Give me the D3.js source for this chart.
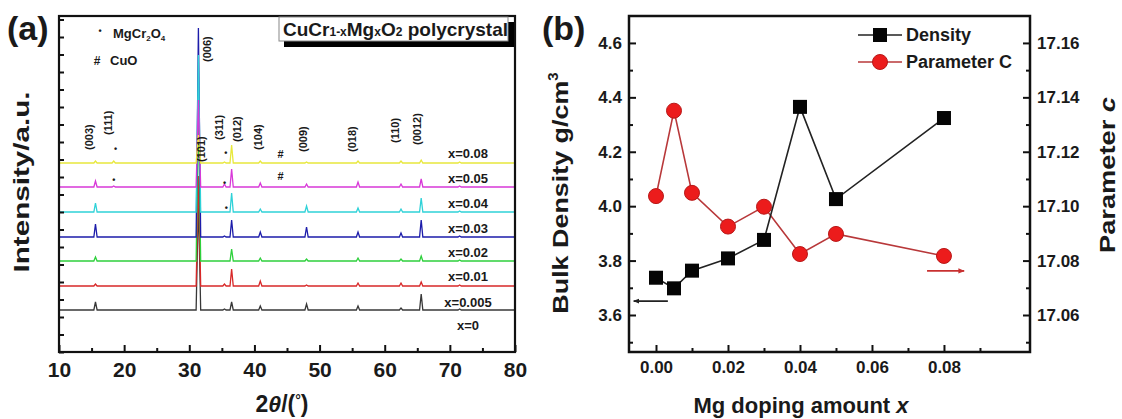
<!DOCTYPE html>
<meta charset="utf-8">
<script src="https://d3js.org/d3.v7.min.js"></script>
<style>
  body { margin: 0; background: #fff; }
  text { font-family: "Liberation Sans", Arial, sans-serif; font-weight: bold; fill: #1a1a1a; }
</style>
<div id="chart"></div>
<script>
// ---------- panel (a): XRD patterns ----------
var peakTheta = [15.6, 18.4, 31.4, 35.4, 36.5, 40.9, 44.0, 48.0, 55.9, 62.5, 65.6, 71.5];
var traceColors = ["#383838", "#d82828", "#2ed03c", "#1c1caa", "#2fd2d8", "#d838d8", "#e8e83c"];
var traceBase = [42, 66, 91, 115, 140, 165, 189];
// peak heights for each trace, same order as peakTheta
var traceHeights = [
  [8, 0, 110, 1, 8, 4, 0, 6, 4, 2, 16, 1],
  [2, 0, 110, 2, 17, 5, 0, 1, 3, 3, 4, 1],
  [4, 0, 150, 0, 12, 3, 0, 2, 3, 2, 5, 1],
  [13, 0, 209, 1, 17, 5, 0, 10, 5, 4, 17, 1],
  [9, 0, 157, 0, 19, 3, 0, 6, 4, 3, 14, 1],
  [6, 1, 87, 3, 18, 4, 0, 3, 5, 3, 8, 1],
  [2, 2, 28, 1, 18, 2, 0, 1, 2, 2, 3, 1]
];
var sampleLabels = ["x=0", "x=0.005", "x=0.01", "x=0.02", "x=0.03", "x=0.04", "x=0.05", "x=0.08"];
var sampleLabelLevel = [22, 45, 71, 95, 119, 144, 169, 194];

var hklText = ["(003)", "(111)", "(006)", "(101)", "(311)", "(012)", "(104)", "(009)", "(018)", "(110)", "(0012)"];
var hklTheta = [14.6, 17.5, 32.8, 31.8, 34.6, 37.4, 40.5, 47.5, 55.0, 61.6, 65.0];
var hklLevel = [202, 217, 290, 190, 212, 210, 202, 200, 200, 209, 207];

var markSymbol = ["•", "•", "•", "•", "#", "#", "•"];
var markTheta = [18.7, 35.6, 18.4, 35.4, 44.0, 44.0, 35.7];
var markLevel = [203, 199, 172, 169, 198, 176, 144];

// ---------- panel (b): density and lattice parameter ----------
var mgX = [0, 0.005, 0.01, 0.02, 0.03, 0.04, 0.05, 0.08];
var density = [3.737, 3.698, 3.763, 3.808, 3.876, 4.365, 4.026, 4.324];
var paramC = [17.1037, 17.1351, 17.1049, 17.0925, 17.0998, 17.0824, 17.0898, 17.0817];
var xTicksB = [0, 0.02, 0.04, 0.06, 0.08];
var densTicks = [3.6, 3.8, 4.0, 4.2, 4.4, 4.6];
var cTicks = [17.06, 17.08, 17.10, 17.12, 17.14, 17.16];

var W = 1122, H = 419;
var svg = d3.select("#chart").append("svg").attr("width", W).attr("height", H);

// ================= (a) =================
var xa = d3.scaleLinear().domain([10, 80]).range([59, 515]);
var ya = d3.scaleLinear().domain([0, 336]).range([352, 16]);
var ga = svg.append("g");

var line = d3.line().x(function (d) { return xa(d[0]); }).y(function (d) { return ya(d[1]); });
traceBase.forEach(function (b, i) {
  var pts = [[10, b]];
  peakTheta.forEach(function (t, k) {
    var w = k == 2 ? 0.35 : 0.25;
    pts.push([t - w, b], [t, b + traceHeights[i][k]], [t + w, b]);
  });
  pts.push([80, b]);
  ga.append("path").attr("d", line(pts)).attr("fill", "none")
    .attr("stroke", traceColors[i]).attr("stroke-width", 1.3);
});

// axes
var axA = ga.append("g").attr("transform", "translate(0,352)")
  .call(d3.axisBottom(xa).tickValues(d3.range(10, 81, 10)).tickSizeInner(-7).tickSizeOuter(0).tickPadding(10));
ga.append("g").attr("transform", "translate(0,352)")
  .call(d3.axisBottom(xa).tickValues(d3.range(15, 80, 10)).tickSizeInner(-4).tickSizeOuter(0).tickFormat(""));
ga.append("g").attr("transform", "translate(59,0)")
  .call(d3.axisLeft(ya).tickValues(d3.range(0, 336, 17.5)).tickSizeInner(-5).tickSizeOuter(0).tickFormat(""));
ga.selectAll(".domain").remove();
ga.selectAll(".tick line").attr("stroke", "#111").attr("stroke-width", 2);
axA.selectAll("text").style("font-size", "21px").attr("fill", "#1a1a1a");

ga.append("rect").attr("x", 59).attr("y", 16).attr("width", 456).attr("height", 336)
  .attr("fill", "none").attr("stroke", "#111").attr("stroke-width", 2.2);

// hkl labels
hklText.forEach(function (s, i) {
  ga.append("text")
    .attr("transform", "translate(" + xa(hklTheta[i]) + "," + ya(hklLevel[i]) + ") rotate(-90)")
    .attr("dy", "0.35em").style("font-size", "11px").text(s);
});
markSymbol.forEach(function (s, i) {
  ga.append("text").attr("x", xa(markTheta[i])).attr("y", ya(markLevel[i]))
    .attr("text-anchor", "middle").attr("dy", "0.35em")
    .style("font-size", s == "#" ? "11px" : "9px").attr("fill", "#444").text(s);
});
sampleLabels.forEach(function (s, i) {
  ga.append("text").attr("x", 468).attr("y", ya(sampleLabelLevel[i]))
    .attr("text-anchor", "middle").style("font-size", "13px").text(s);
});

// phase legend
ga.append("text").attr("x", 100).attr("y", 34).attr("text-anchor", "middle").style("font-size", "9px").attr("fill", "#444").text("•");
var lg1 = ga.append("text").attr("x", 113).attr("y", 38).style("font-size", "13px");
lg1.append("tspan").text("MgCr");
lg1.append("tspan").attr("dy", 3).style("font-size", "8px").text("2");
lg1.append("tspan").attr("dy", -3).text("O");
lg1.append("tspan").attr("dy", 3).style("font-size", "8px").text("4");
ga.append("text").attr("x", 97).attr("y", 65).attr("text-anchor", "middle").style("font-size", "12px").text("#");
ga.append("text").attr("x", 110).attr("y", 65).style("font-size", "13px").text("CuO");

// title box
ga.append("rect").attr("x", 284).attr("y", 22).attr("width", 230).attr("height", 25).attr("fill", "#000");
ga.append("rect").attr("x", 279).attr("y", 17).attr("width", 229).attr("height", 24)
  .attr("fill", "#fff").attr("stroke", "#888").attr("stroke-width", 1);
var tt = ga.append("text").attr("x", 283).attr("y", 36).style("font-size", "19px");
tt.append("tspan").text("CuCr");
tt.append("tspan").style("font-size", "12px").text("1-x");
tt.append("tspan").text("Mg");
tt.append("tspan").style("font-size", "12px").text("x");
tt.append("tspan").text("O");
tt.append("tspan").style("font-size", "12px").text("2");
tt.append("tspan").text(" polycrystal");

svg.append("text").attr("x", 7).attr("y", 40).style("font-size", "34px").text("(a)");
svg.append("text").attr("transform", "translate(29,182) rotate(-90)")
  .attr("text-anchor", "middle").attr("textLength", 181).attr("lengthAdjust", "spacingAndGlyphs")
  .style("font-size", "22px").text("Intensity/a.u.");
var xl = svg.append("text").attr("x", 282).attr("y", 412).attr("text-anchor", "middle").style("font-size", "23px");
xl.append("tspan").text("2");
xl.append("tspan").style("font-style", "italic").text("θ");
xl.append("tspan").text("/(");
xl.append("tspan").attr("dy", -7).style("font-size", "14px").text("°");
xl.append("tspan").attr("dy", 7).text(")");

// ================= (b) =================
var xb = d3.scaleLinear().domain([-0.0075, 0.1039]).range([629, 1030]);
var yb = d3.scaleLinear().domain([3.464, 4.699]).range([352, 16]);
var yc = d3.scaleLinear().domain([17.0464, 17.1699]).range([352, 16]);
var gb = svg.append("g");

var bx = gb.append("g").attr("transform", "translate(0,352)")
  .call(d3.axisBottom(xb).tickValues(xTicksB).tickFormat(d3.format(".2f")).tickSizeInner(-7).tickSizeOuter(0).tickPadding(9));
gb.append("g").attr("transform", "translate(0,352)")
  .call(d3.axisBottom(xb).tickValues([0.01, 0.03, 0.05, 0.07, 0.09]).tickFormat("").tickSizeInner(-4).tickSizeOuter(0));
var bl = gb.append("g").attr("transform", "translate(629,0)")
  .call(d3.axisLeft(yb).tickValues(densTicks).tickFormat(d3.format(".1f")).tickSizeInner(-7).tickSizeOuter(0).tickPadding(7));
gb.append("g").attr("transform", "translate(629,0)")
  .call(d3.axisLeft(yb).tickValues([3.5, 3.7, 3.9, 4.1, 4.3, 4.5]).tickFormat("").tickSizeInner(-4).tickSizeOuter(0));
var br = gb.append("g").attr("transform", "translate(1030,0)")
  .call(d3.axisRight(yc).tickValues(cTicks).tickFormat(d3.format(".2f")).tickSizeInner(-7).tickSizeOuter(0).tickPadding(7));
gb.append("g").attr("transform", "translate(1030,0)")
  .call(d3.axisRight(yc).tickValues([17.05, 17.07, 17.09, 17.11, 17.13, 17.15]).tickFormat("").tickSizeInner(-4).tickSizeOuter(0));
gb.selectAll(".domain").remove();
gb.selectAll(".tick line").attr("stroke", "#111").attr("stroke-width", 2);
gb.selectAll(".tick text").style("font-size", "17px").attr("fill", "#1a1a1a");

gb.append("rect").attr("x", 629).attr("y", 16).attr("width", 401).attr("height", 336)
  .attr("fill", "none").attr("stroke", "#111").attr("stroke-width", 2.5);

// parameter c series
var lc = d3.line().x(function (d, i) { return xb(mgX[i]); }).y(function (d) { return yc(d); });
gb.append("path").attr("d", lc(paramC)).attr("fill", "none").attr("stroke", "#b8383a").attr("stroke-width", 1.6);
gb.selectAll(".pc").data(paramC).enter().append("circle")
  .attr("cx", function (d, i) { return xb(mgX[i]); }).attr("cy", function (d) { return yc(d); })
  .attr("r", 7.5).attr("fill", "#ec1c1c").attr("stroke", "#b81818").attr("stroke-width", 1);

// density series
var ld = d3.line().x(function (d, i) { return xb(mgX[i]); }).y(function (d) { return yb(d); });
gb.append("path").attr("d", ld(density)).attr("fill", "none").attr("stroke", "#222").attr("stroke-width", 1.6);
gb.selectAll(".pd").data(density).enter().append("rect")
  .attr("x", function (d, i) { return xb(mgX[i]) - 7; }).attr("y", function (d) { return yb(d) - 7; })
  .attr("width", 14).attr("height", 14).attr("fill", "#050505");

// legend
gb.append("line").attr("x1", 858).attr("x2", 902).attr("y1", 35).attr("y2", 35).attr("stroke", "#222").attr("stroke-width", 1.6);
gb.append("rect").attr("x", 873).attr("y", 28).attr("width", 14).attr("height", 14).attr("fill", "#050505");
gb.append("text").attr("x", 906).attr("y", 41).style("font-size", "18px").text("Density");
gb.append("line").attr("x1", 858).attr("x2", 902).attr("y1", 62).attr("y2", 62).attr("stroke", "#b8383a").attr("stroke-width", 1.6);
gb.append("circle").attr("cx", 880).attr("cy", 62).attr("r", 7.5).attr("fill", "#ec1c1c").attr("stroke", "#b81818");
gb.append("text").attr("x", 906).attr("y", 68).style("font-size", "18px").text("Parameter C");

// axis arrows
svg.append("defs").selectAll("marker").data(["#222", "#c83030"]).enter().append("marker")
  .attr("id", function (d, i) { return "ah" + i; })
  .attr("viewBox", "0 0 10 10").attr("refX", 9).attr("refY", 5)
  .attr("markerWidth", 4).attr("markerHeight", 4).attr("orient", "auto")
  .append("path").attr("d", "M0,1 L10,5 L0,9 Z").attr("fill", function (d) { return d; });
gb.append("line").attr("x1", xb(0.0033)).attr("x2", xb(-0.0062)).attr("y1", yb(3.651)).attr("y2", yb(3.651))
  .attr("stroke", "#222").attr("stroke-width", 1.6).attr("marker-end", "url(#ah0)");
gb.append("line").attr("x1", xb(0.0753)).attr("x2", xb(0.0856)).attr("y1", yc(17.0762)).attr("y2", yc(17.0762))
  .attr("stroke", "#c83030").attr("stroke-width", 1.6).attr("marker-end", "url(#ah1)");

svg.append("text").attr("x", 542).attr("y", 40).style("font-size", "34px").text("(b)");
var yl = svg.append("text").attr("transform", "translate(568,193) rotate(-90)")
  .attr("text-anchor", "middle").style("font-size", "22px");
yl.append("tspan").attr("textLength", 233).attr("lengthAdjust", "spacingAndGlyphs").text("Bulk Density g/cm");
yl.append("tspan").attr("dy", -10).style("font-size", "15px").text("3");
var yr = svg.append("text").attr("transform", "translate(1115,175) rotate(-90)")
  .attr("text-anchor", "middle").attr("textLength", 156).attr("lengthAdjust", "spacingAndGlyphs").style("font-size", "22px");
yr.append("tspan").text("Parameter ");
yr.append("tspan").style("font-style", "italic").text("c");
var xlb = svg.append("text").attr("x", 801).attr("y", 413).attr("text-anchor", "middle").style("font-size", "22px");
xlb.append("tspan").text("Mg doping amount ");
xlb.append("tspan").style("font-style", "italic").text("x");
</script>
